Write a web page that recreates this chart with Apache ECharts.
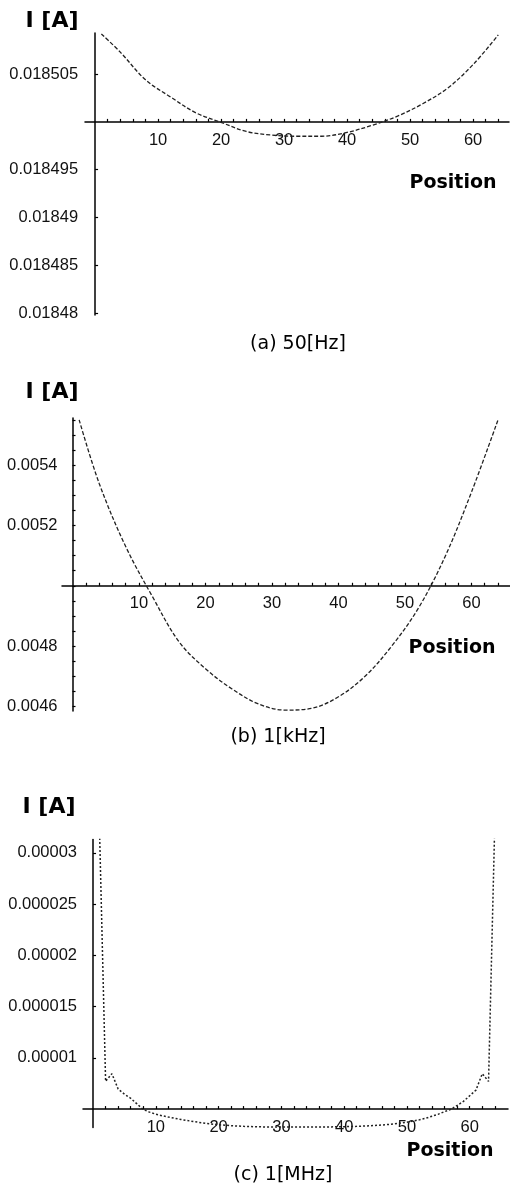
<!DOCTYPE html>
<html>
<head>
<meta charset="utf-8">
<script src="https://cdn.jsdelivr.net/npm/echarts@6/dist/echarts.min.js"></script>
<style>
html,body{margin:0;padding:0;background:#fff;}
#c{width:510px;height:1186px;}
</style>
</head>
<body>
<div id="c"></div>
<script>
// ---------- data ----------
// (a) 50 Hz
const posA = [1, 4, 8, 12, 16, 20, 24, 28, 32, 36, 40, 44, 48, 52, 56, 60, 64];
const curA = [0.0185092, 0.0185073, 0.0185044, 0.0185026, 0.01850095, 0.01849995, 0.0184990, 0.01849862,
              0.0184985, 0.0184985, 0.0184989, 0.01849965, 0.0185006, 0.0185019, 0.01850355, 0.0185060, 0.0185091];
const originA = 0.0185;
const yLabelsA = ['0.018505', '0.018495', '0.01849', '0.018485', '0.01848'];

// (b) 1 kHz
const posB = [1, 4, 8, 12, 16, 20, 24, 28, 32, 36, 40, 44, 48, 52, 56, 60, 64];
const curB = [0.005550, 0.005340, 0.005130, 0.004965, 0.004815, 0.004725, 0.004658, 0.004608,
              0.004588, 0.004594, 0.004632, 0.004700, 0.004800, 0.004925, 0.005095, 0.005310, 0.005550];
const originB = 0.005;
const yLabelsB = ['0.0054', '0.0052', '0.0048', '0.0046'];

// (c) 1 MHz
const posC = [1, 2, 3, 4, 5, 6, 7, 8, 9, 10, 11, 12, 14, 16, 18, 20, 22, 24, 26, 28, 30, 32, 34, 36, 38,
              40, 42, 44, 46, 48, 50, 52, 53, 54, 55, 56, 57, 58, 59, 60, 61, 62, 63, 64];
const curC = [33e-6, 7.7e-6, 8.45e-6, 6.95e-6, 6.45e-6, 6.05e-6, 5.5e-6, 4.95e-6, 4.7e-6, 4.5e-6, 4.35e-6, 4.22e-6,
              3.98e-6, 3.78e-6, 3.6e-6, 3.47e-6, 3.38e-6, 3.31e-6, 3.27e-6, 3.25e-6, 3.25e-6, 3.25e-6, 3.25e-6,
              3.25e-6, 3.26e-6, 3.28e-6, 3.31e-6, 3.36e-6, 3.44e-6, 3.55e-6, 3.72e-6, 3.95e-6, 4.1e-6, 4.3e-6,
              4.5e-6, 4.75e-6, 4.97e-6, 5.35e-6, 5.75e-6, 6.3e-6, 6.85e-6, 8.45e-6, 7.7e-6, 33e-6];
const originC = 0.000005;
const yLabelsC = ['0.00003', '0.000025', '0.00002', '0.000015', '0.00001'];

// shared x ticks
const xTickLabels = [10, 20, 30, 40, 50, 60];
const xMinorTicks = [];
for (let k = 2; k <= 64; k += 2) xMinorTicks.push(k);

const yLabelText = ['I [A]', 'I [A]', 'I [A]'];
const xName = 'Position';
const captions = ['(a) 50[Hz]', '(b) 1[kHz]', '(c) 1[MHz]'];

// ---------- helpers ----------
function labelVals(labels, origin) { return labels.map(s => parseFloat(s) - origin); }
function labelFormatter(labels, origin) {
  const vals = labelVals(labels, origin);
  const tol = Math.abs(vals[0] - vals[1]) * 0.01;
  return function (v) {
    let best = -1, bd = Infinity;
    for (let i = 0; i < vals.length; i++) {
      const d = Math.abs(vals[i] - v);
      if (d < bd) { bd = d; best = i; }
    }
    return bd < tol ? labels[best] : '';
  };
}

const minorB = [];
for (let k = 0; k <= 19; k++) minorB.push(0.0046 + k * 0.00005 - originB);

const labelFont = { fontFamily: 'Liberation Sans', fontSize: 16.5, color: '#111' };
const axisLineStyle = { color: '#000', width: 1.5 };

// panel geometry
const grids = [
  { left: 85, top: 33, width: 424, height: 282 },
  { left: 62, top: 418, width: 448, height: 293 },
  { left: 83, top: 839.5, width: 425, height: 288 }
];
const xRanges = [[-1.6, 65.7], [-1.58, 65.8], [-1.6, 66.1]];
const yRanges = [
  [0.0184798 - originA, 0.0185093 - originA],
  [0.004585 - originB, 0.005556 - originB],
  [0.0000032 - originC, 0.0000313 - originC]
];

function xAxisCfg(gi, margin) {
  const [ymin, ymax] = yRanges[gi];
  const off = -grids[gi].height * (0 - ymin) / (ymax - ymin);  // place axis at y = origin
  return {
    type: 'value', gridIndex: gi, min: xRanges[gi][0], max: xRanges[gi][1], position: 'bottom', offset: off,
    splitLine: { show: false },
    axisLine: { show: true, onZero: false, lineStyle: axisLineStyle },
    axisTick: { show: true, inside: true, length: 3, customValues: xMinorTicks, lineStyle: { color: '#000', width: 1.2 } },
    axisLabel: { show: true, customValues: xTickLabels, margin: margin, ...labelFont, formatter: v => String(Math.round(v)) }
  };
}
function yAxisCfg(gi, labels, origin, ticks, margin) {
  const [xmin, xmax] = xRanges[gi];
  const off = -grids[gi].width * (0 - xmin) / (xmax - xmin);  // place axis at x = 0
  return {
    type: 'value', gridIndex: gi, min: yRanges[gi][0], max: yRanges[gi][1], position: 'left', offset: off,
    splitLine: { show: false },
    axisLine: { show: true, onZero: false, lineStyle: axisLineStyle },
    axisTick: { show: true, inside: true, length: 3, customValues: ticks, lineStyle: { color: '#000', width: 1.2 } },
    axisLabel: { show: true, customValues: labelVals(labels, origin), margin: margin, ...labelFont,
                 formatter: labelFormatter(labels, origin) }
  };
}

function text(x, y, s, font) {
  return { type: 'text', x: x, y: y, style: { text: s, font: font, fill: '#000',
           align: 'center', verticalAlign: 'middle', textAlign: 'center', textVerticalAlign: 'middle' } };
}

const option = {
  animation: false,
  backgroundColor: '#fff',
  grid: grids,
  xAxis: [xAxisCfg(0, 10), xAxisCfg(1, 9), xAxisCfg(2, 10)],
  yAxis: [
    yAxisCfg(0, yLabelsA, originA, labelVals(yLabelsA, originA), 17),
    yAxisCfg(1, yLabelsB, originB, minorB, 15),
    yAxisCfg(2, yLabelsC, originC, labelVals(yLabelsC, originC), 16)
  ],
  series: [
    { type: 'line', xAxisIndex: 0, yAxisIndex: 0, data: posA.map((x, i) => [x, curA[i] - originA]),
      smooth: 0.35, showSymbol: false, symbol: 'none', lineStyle: { color: '#222', width: 1.3, type: [4, 2] } },
    { type: 'line', xAxisIndex: 1, yAxisIndex: 1, data: posB.map((x, i) => [x, curB[i] - originB]),
      smooth: 0.35, showSymbol: false, symbol: 'none', lineStyle: { color: '#222', width: 1.3, type: [4, 2] } },
    { type: 'line', xAxisIndex: 2, yAxisIndex: 2, data: posC.map((x, i) => [x, curC[i] - originC]),
      smooth: false, showSymbol: false, symbol: 'none', clip: true, lineStyle: { color: '#222', width: 1.5, type: [2, 2] } }
  ],
  graphic: [
    text(52, 21, yLabelText[0], 'bold 22px "DejaVu Sans"'),
    text(52, 392, yLabelText[1], 'bold 22px "DejaVu Sans"'),
    text(49, 807, yLabelText[2], 'bold 22px "DejaVu Sans"'),
    text(453, 183, xName, 'bold 19px "DejaVu Sans"'),
    text(452, 648, xName, 'bold 19px "DejaVu Sans"'),
    text(450, 1151, xName, 'bold 19px "DejaVu Sans"'),
    text(298, 344, captions[0], '19px "DejaVu Sans"'),
    text(278, 737, captions[1], '19px "DejaVu Sans"'),
    text(283, 1175, captions[2], '19px "DejaVu Sans"')
  ]
};

const chart = echarts.init(document.getElementById('c'), null, { renderer: 'canvas' });
chart.setOption(option);
</script>
</body>
</html>
